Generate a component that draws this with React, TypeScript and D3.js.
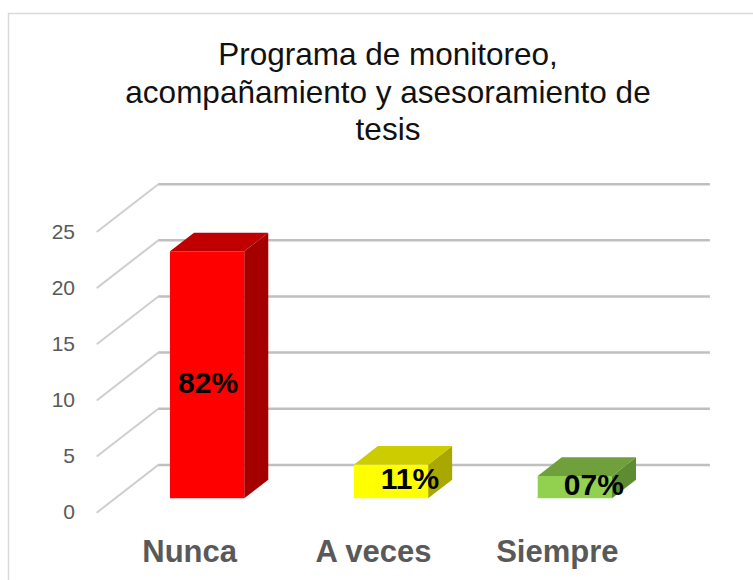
import React from "react";
import * as d3 from "d3";

const categories = ["Nunca", "A veces", "Siempre"];
const values = [22, 3, 2];
const percentLabels = ["82%", "11%", "07%"];
const yTicks = [0, 5, 10, 15, 20, 25];
const titleLines = ["Programa de monitoreo,", "acompañamiento y asesoramiento de", "tesis"];
const frontColors = ["#FF0000", "#FFFF00", "#92D050"];
const topColors = ["#C00000", "#CCCC00", "#70A03C"];
const sideColors = ["#A50000", "#A8A800", "#5E8C32"];

export default function App() {
  const W = 753, H = 580;
  const frontX0 = 96.7, frontY0 = 512.7;
  const depthDx = 61.6, depthDy = -47.8;
  const plotW = 551.6;
  const y = d3.scaleLinear().domain([0, 25]).range([0, 280.7]);
  const x = d3.scaleBand<string>().domain(categories).range([0, plotW]).paddingInner(0.596).paddingOuter(0.298);
  const d0 = 0.3, d1 = 0.69;
  const P = (xp: number, d: number, v: number): [number, number] => [
    frontX0 + xp + d * depthDx,
    frontY0 + d * depthDy - y(v),
  ];
  const pts = (arr: [number, number][]) => arr.map((p) => p.join(",")).join(" ");
  const font = "'Liberation Sans', Arial, sans-serif";

  return (
    <svg width={W} height={H} style={{ position: "absolute", left: 0, top: 0, background: "#fff" }}>
      <rect x={8.5} y={13.5} width={W + 20} height={H + 20} fill="#fff" stroke="#D9D9D9" strokeWidth={1.5} />
      {titleLines.map((t, i) => (
        <text key={i} x={388} y={65 + i * 37.5} textAnchor="middle" fontFamily={font} fontSize={31.5} fill="#111">
          {t}
        </text>
      ))}
      {yTicks.map((t) => {
        const a = P(0, 0, t);
        const b = P(0, 1, t);
        const c = P(plotW, 1, t);
        return (
          <g key={t}>
            <line x1={a[0]} y1={a[1]} x2={b[0]} y2={b[1]} stroke="#CFCFCF" strokeWidth={2} />
            <line x1={b[0]} y1={b[1]} x2={c[0]} y2={c[1]} stroke="#BFBFBF" strokeWidth={2.5} />
            <text x={75} y={a[1] + 1} textAnchor="end" dominantBaseline="middle" fontFamily={font} fontSize={21} fill="#595959">
              {t}
            </text>
          </g>
        );
      })}
      {categories.map((c, i) => {
        const xl = x(c)!;
        const xr = xl + x.bandwidth();
        const v = values[i];
        const front = [P(xl, d0, 0), P(xr, d0, 0), P(xr, d0, v), P(xl, d0, v)] as [number, number][];
        const top = [P(xl, d0, v), P(xr, d0, v), P(xr, d1, v), P(xl, d1, v)] as [number, number][];
        const side = [P(xr, d0, 0), P(xr, d0, v), P(xr, d1, v), P(xr, d1, 0)] as [number, number][];
        const fc = P((xl + xr) / 2, d0, v / 2);
        const short = y(v) < 60;
        const lx = fc[0] + (short ? 19 : 1);
        const ly = fc[1] + (short ? -3 : 8);
        return (
          <g key={c}>
            <polygon points={pts(side)} fill={sideColors[i]} />
            <polygon points={pts(top)} fill={topColors[i]} />
            <polygon points={pts(front)} fill={frontColors[i]} />
            <text x={lx} y={ly} textAnchor="middle" dominantBaseline="central" fontFamily={font} fontWeight="bold" fontSize={30} fill="#000">
              {percentLabels[i]}
            </text>
          </g>
        );
      })}
      {categories.map((c) => {
        const p = P(x(c)! + x.bandwidth() / 2, 0, 0);
        return (
          <text key={c} x={p[0] + 1} y={561.5} textAnchor="middle" fontFamily={font} fontWeight="bold" fontSize={31} fill="#595959">
            {c}
          </text>
        );
      })}
    </svg>
  );
}
